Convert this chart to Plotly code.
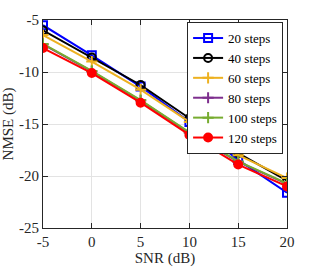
import plotly.graph_objects as go

snr = [-5, 0, 5, 10, 15, 20]
steps_20 = [-5.5, -8.4, -11.4, -14.8, -18.45, -21.6]
steps_40 = [-6.0, -8.6, -11.25, -14.45, -17.8, -20.45]
steps_60 = [-6.45, -9.0, -11.7, -14.8, -18.0, -20.2]
steps_80 = [-7.35, -9.95, -12.75, -15.85, -18.65, -20.75]
steps_100 = [-7.3, -9.9, -12.7, -15.8, -18.6, -20.7]
steps_120 = [-7.7, -10.1, -12.95, -16.05, -18.9, -21.0]

series = [
    ("20 steps", steps_20, "#0000ff", "square-open"),
    ("40 steps", steps_40, "#000000", "circle-open"),
    ("60 steps", steps_60, "#edb120", "cross-thin-open"),
    ("80 steps", steps_80, "#7e2f8e", "cross-thin-open"),
    ("100 steps", steps_100, "#77ac30", "cross-thin-open"),
    ("120 steps", steps_120, "#ff0000", "circle"),
]

SERIF = "Times New Roman"

fig = go.Figure()
for name, vals, col, sym in series:
    fig.add_trace(go.Scatter(
        x=snr, y=vals, name=name, mode="lines+markers",
        line=dict(color=col, width=2),
        marker=dict(symbol=sym, size=8, color=col, line=dict(color=col, width=2)),
    ))

axis_common = dict(
    showline=True, linecolor="#262626", linewidth=1, mirror="ticks",
    ticks="inside", ticklen=5, tickcolor="#262626",
    showgrid=True, gridcolor="#e3e3e3", gridwidth=1, zeroline=False,
    tickfont=dict(family=SERIF, size=15, color="#262626"),
    automargin=False,
)

fig.update_xaxes(range=[-5, 20], tickvals=[-5, 0, 5, 10, 15, 20],
                 ticktext=["-5", "0", "5", "10", "15", "20"],
                 title=dict(text="SNR (dB)", standoff=2,
                            font=dict(family=SERIF, size=15, color="#262626")),
                 **axis_common)
fig.update_yaxes(range=[-25, -5], tickvals=[-25, -20, -15, -10, -5],
                 ticktext=["-25", "-20", "-15", "-10", "-5"],
                 title=dict(text="NMSE (dB)", standoff=2,
                            font=dict(family=SERIF, size=15, color="#262626")),
                 **axis_common)

fig.update_layout(
    width=317, height=267,
    font=dict(family=SERIF),
    margin=dict(l=43, r=30, t=20, b=39),
    paper_bgcolor="white", plot_bgcolor="white",
    showlegend=True,
    legend=dict(x=0.984, y=0.99, xanchor="right", yanchor="top",
                bgcolor="white", bordercolor="#262626", borderwidth=1,
                font=dict(family=SERIF, size=13, color="#000000"),
                itemwidth=30, tracegroupgap=0),
)

fig.write_html("out.html", config={"displayModeBar": False},
               post_script="document.body.style.margin='0';")
